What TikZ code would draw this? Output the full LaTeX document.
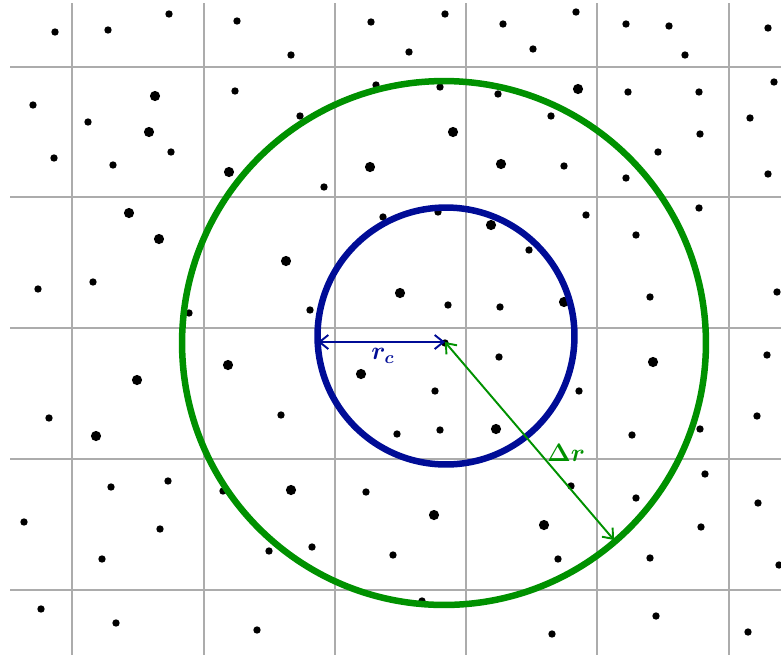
\documentclass[tikz,border=0pt]{standalone}
\usepackage{amsmath,amssymb}
\usepackage{xcolor}
\usepackage{tikz}
\usetikzlibrary{arrows.meta}

\definecolor{ringgreen}{RGB}{0,145,0}
\definecolor{ringblue}{RGB}{0,12,150}
\definecolor{gridgray}{RGB}{172,172,172}

\begin{document}
\begin{tikzpicture}[
  x=0.02cm, y=-0.02cm,
  gridline/.style={draw=gridgray, line width=1.4pt},
  ring/.style={line width=3.7pt},
  radarrow/.style={line width=1.1pt,
                   {Straight Barb[length=5pt,width=8pt]}-{Straight Barb[length=5pt,width=8pt]}},
  lbl/.style={font=\Large\boldmath, inner sep=1pt},
]
  \useasboundingbox (0,0) rectangle (781,657);

  % grid
  \foreach \gx in {72,204,335,466,597,729}
    \draw[gridline] (\gx,3) -- (\gx,655);
  \foreach \gy in {67,197,328,459,590}
    \draw[gridline] (10,\gy) -- (781,\gy);

  % particles
  \foreach \px/\py in {55/32,108/30,169/14,237/21,291/55,371/22,409/52,445/14,
      503/24,533/49,576/12,626/24,669/26,685/55,768/28,
      33/105,88/122,54/158,113/165,171/152,235/91,300/116,376/85,440/87,
      324/187,498/94,551/116,564/166,628/92,626/178,658/152,699/92,700/134,
      774/82,750/118,768/174,
      93/282,38/289,189/313,310/310,383/217,438/212,529/250,448/305,500/307,
      586/215,636/235,650/297,699/208,777/292,
      445/343,499/357,767/355,435/391,579/391,49/418,281/415,397/434,440/430,
      632/435,700/429,757/416,111/487,168/481,223/491,366/492,571/486,636/498,
      705/474,758/503,24/522,160/529,701/527,102/559,269/551,312/547,393/555,
      558/559,650/558,779/565,422/601,41/609,116/623,257/630,552/634,656/616,
      748/632}
    \fill (\px,\py) circle[radius=2.1pt];
  \foreach \px/\py in {155/96,149/132,229/172,453/132,370/167,501/164,578/89,
      129/213,159/239,286/261,491/225,400/293,564/302,
      653/362,228/365,137/380,361/374,96/436,496/429,291/490,434/515,544/525}
    \fill (\px,\py) circle[radius=2.9pt];

  % rings
  \coordinate (bluectr)  at (446,336);
  \coordinate (greenctr) at (444,343);
  \draw[ring, ringblue]  (bluectr)  circle[radius=2.57cm];
  \draw[ring, ringgreen] (greenctr) circle[radius=5.24cm];

  % radii
  \coordinate (ctr)   at (445,342);
  \coordinate (rcend) at (318,342);
  \coordinate (drend) at (614,540);
  \draw[radarrow, ringblue]  (rcend) -- (ctr);
  \draw[radarrow, ringgreen] (ctr) -- (drend);
  \node[lbl, text=ringblue]  (rc) at (383,356) {$r_c$};
  \node[lbl, text=ringgreen] (dr) at (566,453) {$\Delta r$};
\end{tikzpicture}
\end{document}
